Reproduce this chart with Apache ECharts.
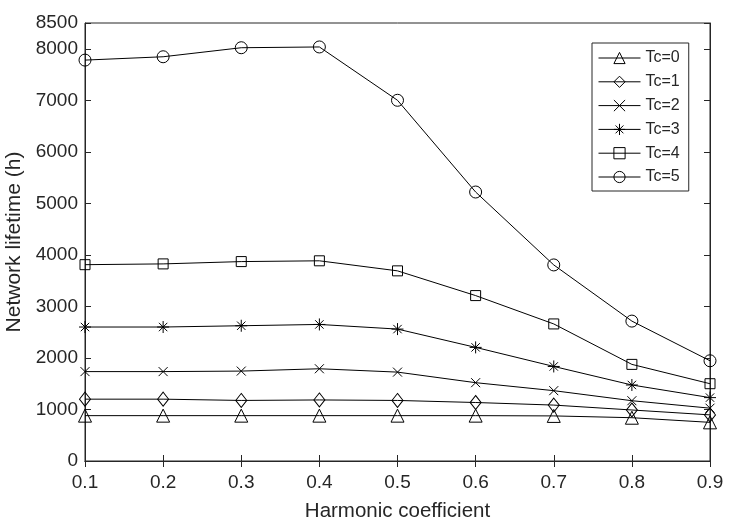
<!DOCTYPE html>
<html>
<head>
<meta charset="utf-8">
<script src="https://cdn.jsdelivr.net/npm/echarts@6/dist/echarts.min.js"></script>
<style>html,body{margin:0;padding:0;background:#fff;}#c{width:730px;height:529px;}</style>
</head>
<body>
<div id="c"></div>
<script>
var categories = ['0.1','0.2','0.3','0.4','0.5','0.6','0.7','0.8','0.9'];
var seriesNames = ['Tc=0','Tc=1','Tc=2','Tc=3','Tc=4','Tc=5'];
var tc0 = [880, 880, 880, 880, 880, 880, 875, 840, 750];
var tc1 = [1200, 1200, 1175, 1185, 1175, 1135, 1085, 990, 895];
var tc2 = [1735, 1735, 1745, 1790, 1725, 1520, 1365, 1170, 1025];
var tc3 = [2600, 2600, 2625, 2650, 2560, 2205, 1835, 1475, 1230];
var tc4 = [3810, 3825, 3870, 3885, 3690, 3210, 2660, 1875, 1500];
var tc5 = [7780, 7845, 8020, 8035, 7000, 5220, 3805, 2715, 1945];
var yTicks = {min: 0, max: 8500, interval: 1000};

var textColor = '#262626';
var font = 'Liberation Sans, Arial, sans-serif';
var symbols = [
  {s: 'triangle', size: 13},
  {s: 'diamond', size: [11, 14]},
  {s: 'path://M0,0L10,10M10,0L0,10', size: 9},
  {s: 'path://M5,0L5,10M0,5L10,5M1.5,1.5L8.5,8.5M8.5,1.5L1.5,8.5', size: 12},
  {s: 'rect', size: 10},
  {s: 'circle', size: 12}
];
var allData = [tc0, tc1, tc2, tc3, tc4, tc5];

var series = allData.map(function (d, i) {
  return {
    name: seriesNames[i],
    type: 'line',
    data: d,
    symbol: symbols[i].s,
    symbolSize: symbols[i].size,
    showAllSymbol: true,
    lineStyle: {color: '#000', width: 1},
    itemStyle: {color: 'rgba(0,0,0,0)', borderColor: '#000', borderWidth: 1},
    emphasis: {disabled: true},
    animation: false,
    z: 3
  };
});

var chart = echarts.init(document.getElementById('c'), null, {renderer: 'canvas'});
chart.setOption({
  backgroundColor: '#fff',
  animation: false,
  grid: {left: 85, right: 20, top: 23, bottom: 68, containLabel: false, outerBoundsMode: 'none', show: true, borderColor: textColor, borderWidth: 1, backgroundColor: '#fff'},
  legend: {
    orient: 'vertical',
    left: 592, top: 43,
    data: seriesNames,
    backgroundColor: '#fff',
    borderColor: textColor,
    borderWidth: 1,
    padding: [7, 9, 6, 6],
    itemWidth: 42,
    itemHeight: 14,
    itemGap: 7.8,
    itemStyle: {borderWidth: 1, borderColor: '#000', color: 'rgba(0,0,0,0)'},
    lineStyle: {width: 1, color: '#000'},
    textStyle: {fontFamily: font, fontSize: 16, lineHeight: 16, color: textColor, padding: [0, 0, 0, 0]},
    inactiveColor: '#000'
  },
  xAxis: [{
    type: 'category',
    data: categories,
    boundaryGap: false,
    name: 'Harmonic coefficient',
    nameLocation: 'middle',
    nameGap: 40,
    nameTextStyle: {fontFamily: font, fontSize: 20.5, color: textColor},
    axisLine: {lineStyle: {color: textColor, width: 1}},
    axisTick: {inside: true, length: 6, lineStyle: {color: textColor}},
    axisLabel: {fontFamily: font, fontSize: 19, color: textColor, margin: 12},
    splitLine: {show: false}
  }, {
    type: 'category',
    data: categories,
    boundaryGap: false,
    position: 'top',
    axisLine: {lineStyle: {color: textColor, width: 1}},
    axisTick: {inside: true, length: 6, lineStyle: {color: textColor}},
    axisLabel: {show: false},
    splitLine: {show: false}
  }],
  yAxis: [{
    type: 'value',
    min: yTicks.min, max: yTicks.max, interval: yTicks.interval,
    name: 'Network lifetime (h)',
    nameLocation: 'middle',
    nameGap: 52,
    nameTextStyle: {fontFamily: font, fontSize: 21, color: textColor},
    axisLine: {show: true, lineStyle: {color: textColor, width: 1}},
    axisTick: {show: true, inside: true, length: 6, lineStyle: {color: textColor}},
    axisLabel: {fontFamily: font, fontSize: 19, color: textColor, margin: 7, formatter: function (v) { return String(v); }},
    splitLine: {show: false}
  }, {
    type: 'value',
    min: yTicks.min, max: yTicks.max, interval: yTicks.interval,
    position: 'right',
    axisLine: {show: true, lineStyle: {color: textColor, width: 1}},
    axisTick: {show: true, inside: true, length: 6, lineStyle: {color: textColor}},
    axisLabel: {show: false},
    splitLine: {show: false}
  }],
  series: series
});
</script>
</body>
</html>
